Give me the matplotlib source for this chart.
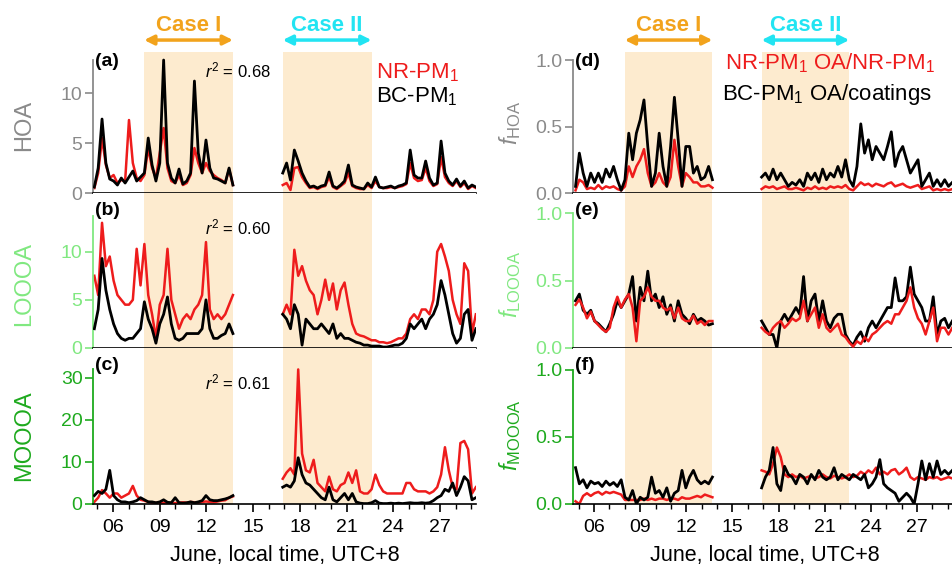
import numpy as np
import matplotlib
matplotlib.use("Agg")
import matplotlib.pyplot as plt
from matplotlib.ticker import MultipleLocator

plt.rcParams['font.family'] = ['Liberation Sans', 'DejaVu Sans']
plt.rcParams['mathtext.fontset'] = 'custom'
plt.rcParams['mathtext.rm'] = 'Liberation Sans'
plt.rcParams['mathtext.it'] = 'Liberation Sans:italic'
plt.rcParams['mathtext.bf'] = 'Liberation Sans:bold'

# sampling grid (days of June, local time): two measurement periods
t1 = np.linspace(4.8, 13.7, 37)
t2 = np.linspace(16.9, 29.3, 51)

# ---- HOA (ug m-3) ----
hoa_nr1 = [0.5, 2.0, 5.5, 2.8, 1.5, 1.8, 1.0, 1.3, 1.2, 7.3,
           3.0, 1.5, 1.2, 1.8, 4.5, 2.5, 1.5, 4.0, 6.5, 2.5,
           1.2, 1.0, 1.8, 0.8, 1.0, 1.8, 4.5, 3.0, 2.0, 3.0,
           2.2, 1.8, 1.5, 1.3, 1.0, 2.4, 0.8]
hoa_bc1 = [0.6, 2.5, 7.4, 3.0, 1.4, 1.2, 0.8, 1.5, 1.0, 1.6,
           2.2, 1.2, 1.6, 2.0, 5.5, 2.8, 1.2, 3.0, 13.3, 3.0,
           1.5, 1.0, 2.4, 0.9, 1.2, 2.0, 11.2, 4.0, 2.0, 5.3,
           2.5, 1.5, 1.4, 1.2, 1.0, 2.5, 0.8]
hoa_nr2 = [0.8, 1.0, 0.3, 2.5, 2.6, 1.6, 1.0, 0.5, 0.6, 0.4,
           0.6, 0.7, 1.6, 0.6, 0.4, 0.7, 1.0, 2.0, 0.7, 0.5,
           0.4, 0.4, 0.8, 0.5, 1.2, 0.6, 0.5, 0.5, 0.6, 0.5,
           0.6, 0.7, 0.9, 3.0, 1.5, 1.2, 1.3, 2.5, 1.2, 0.7,
           0.9, 3.6, 1.6, 1.0, 0.7, 1.2, 0.6, 1.0, 0.4, 0.7, 0.5]
hoa_bc2 = [2.0, 3.0, 1.3, 4.3, 3.2, 2.0, 1.2, 0.6, 0.7, 0.5,
           0.7, 0.8, 2.1, 0.7, 0.5, 0.8, 1.2, 2.8, 0.8, 0.6,
           0.5, 0.4, 1.0, 0.6, 1.6, 0.6, 0.5, 0.6, 0.7, 0.5,
           0.7, 0.8, 1.0, 4.3, 1.8, 1.5, 1.5, 3.2, 1.5, 0.8,
           1.0, 5.2, 2.0, 1.2, 0.8, 1.4, 0.7, 1.2, 0.5, 0.8, 0.6]

# ---- LOOOA ----
looa_nr1 = [7.5, 5.5, 13.0, 8.5, 9.5, 7.0, 5.5, 5.0, 4.5, 4.5,
            5.0, 10.3, 6.5, 10.8, 5.5, 3.5, 1.0, 4.5, 5.5, 10.3,
            5.0, 3.5, 2.0, 3.0, 3.5, 3.0, 4.0, 4.5, 5.5, 11.0,
            4.0, 3.0, 3.5, 3.0, 3.5, 4.5, 5.5]
looa_bc1 = [2.0, 4.0, 9.3, 6.0, 4.0, 2.5, 1.5, 1.0, 0.8, 1.0,
            1.0, 1.5, 2.0, 4.8, 3.0, 2.0, 0.5, 2.5, 3.5, 5.3,
            2.5, 1.0, 0.8, 1.0, 1.5, 1.5, 1.5, 1.5, 2.0, 5.0,
            2.0, 1.0, 1.0, 1.3, 1.5, 2.5, 1.5]
looa_nr2 = [3.5, 4.5, 3.5, 10.2, 7.5, 8.5, 7.0, 6.0, 5.5, 3.5,
            5.0, 7.1, 5.0, 6.7, 4.0, 6.0, 6.8, 4.5, 2.5, 1.5,
            1.3, 1.2, 1.0, 0.8, 0.8, 0.6, 0.6, 0.5, 0.6, 0.8,
            1.0, 1.0, 1.5, 3.0, 3.5, 3.0, 4.0, 4.0, 3.5, 5.0,
            10.0, 10.8, 9.5, 8.0, 5.0, 3.5, 2.5, 8.8, 8.0, 1.5, 3.5]
looa_bc2 = [3.5, 3.0, 2.0, 4.5, 3.5, 0.3, 3.0, 2.5, 2.0, 2.0,
            2.5, 2.0, 1.5, 2.5, 1.0, 1.5, 1.0, 1.0, 0.8, 0.6,
            0.5, 0.3, 0.3, 0.2, 0.2, 0.2, 0.1, 0.1, 0.2, 0.3,
            0.3, 0.5, 1.0, 2.5, 2.0, 2.5, 3.0, 2.0, 3.0, 3.5,
            4.5, 7.0, 5.5, 3.5, 1.5, 0.5, 1.0, 3.5, 4.0, 0.8, 2.0]

# ---- MOOOA ----
mooa_nr1 = [0.5, 1.5, 3.3, 2.5, 1.5, 2.5, 2.5, 1.5, 2.0, 2.5,
            4.3, 2.0, 1.0, 0.8, 0.5, 0.3, 0.3, 0.2, 0.3, 0.2,
            0.3, 0.2, 0.3, 0.4, 0.3, 0.5, 0.4, 0.3, 0.5, 0.6,
            0.5, 0.4, 0.6, 0.8, 0.9, 1.5, 1.8]
mooa_bc1 = [2.0, 3.0, 2.5, 3.5, 8.0, 2.0, 1.0, 0.5, 0.5, 0.3,
            0.5, 0.8, 1.5, 1.0, 0.5, 0.5, 0.3, 0.5, 1.0, 0.4,
            0.3, 1.5, 0.3, 0.2, 0.3, 0.5, 0.3, 0.5, 0.8, 2.0,
            1.0, 0.8, 0.8, 1.0, 1.2, 1.5, 2.0]
mooa_nr2 = [6.0, 7.5, 8.5, 7.0, 32.0, 12.0, 8.0, 7.5, 10.5, 5.0,
            4.0, 3.0, 6.5, 3.5, 3.0, 4.5, 5.0, 7.5, 5.0, 8.0,
            3.0, 2.5, 2.5, 3.5, 7.0, 4.5, 3.0, 2.5, 2.5, 2.5,
            2.5, 2.5, 5.0, 5.0, 3.5, 3.0, 3.0, 3.0, 2.5, 3.0,
            4.0, 7.0, 13.5, 8.0, 4.0, 3.5, 14.5, 15.0, 13.0, 2.5, 4.0]
mooa_bc2 = [4.0, 4.5, 4.0, 5.5, 11.0, 7.0, 5.0, 4.5, 3.5, 2.5,
            1.5, 1.0, 4.0, 1.0, 0.5, 1.5, 2.5, 1.0, 2.5, 0.5,
            0.2, 0.1, 0.1, 0.3, 0.8, 0.2, 0.1, 0.1, 0.2, 0.1,
            0.2, 0.1, 0.2, 0.3, 0.2, 0.2, 0.3, 0.2, 0.3, 0.8,
            1.5, 2.0, 3.5, 3.0, 5.0, 2.0, 4.0, 6.5, 5.5, 1.0, 1.5]

# ---- fractions ----
fhoa_nr1 = [0.02, 0.1, 0.08, 0.03, 0.04, 0.03, 0.06, 0.03, 0.05, 0.04,
            0.05, 0.03, 0.02, 0.05, 0.2, 0.12, 0.2, 0.25, 0.33, 0.15,
            0.05, 0.08, 0.15, 0.08, 0.05, 0.12, 0.4, 0.2, 0.05, 0.15,
            0.12, 0.08, 0.08, 0.05, 0.05, 0.06, 0.04]
fhoa_bc1 = [0.05, 0.3, 0.15, 0.05, 0.15, 0.08, 0.15, 0.08, 0.18, 0.12,
            0.2, 0.1, 0.02, 0.1, 0.45, 0.25, 0.45, 0.55, 0.7, 0.35,
            0.05, 0.15, 0.45, 0.2, 0.05, 0.35, 0.72, 0.4, 0.05, 0.35,
            0.35, 0.15, 0.2, 0.1, 0.12, 0.2, 0.1]
fhoa_nr2 = [0.03, 0.05, 0.04, 0.05, 0.03, 0.04, 0.05, 0.03, 0.03, 0.04,
            0.03, 0.02, 0.04, 0.03, 0.05, 0.03, 0.04, 0.03, 0.05, 0.04,
            0.05, 0.04, 0.06, 0.03, 0.02, 0.05, 0.08, 0.06, 0.07, 0.05,
            0.07, 0.06, 0.05, 0.07, 0.08, 0.05, 0.06, 0.07, 0.05, 0.04,
            0.05, 0.06, 0.03, 0.04, 0.05, 0.02, 0.03, 0.02, 0.03, 0.02, 0.03]
fhoa_bc2 = [0.12, 0.15, 0.1, 0.18, 0.1, 0.15, 0.1, 0.05, 0.08, 0.06,
            0.1, 0.05, 0.15, 0.1, 0.15, 0.08, 0.18, 0.1, 0.15, 0.12,
            0.2, 0.12, 0.25, 0.1, 0.05, 0.2, 0.52, 0.3, 0.4, 0.25,
            0.35, 0.3, 0.25, 0.35, 0.46, 0.2, 0.3, 0.35, 0.25, 0.15,
            0.2, 0.25, 0.05, 0.1, 0.15, 0.05, 0.1, 0.05, 0.1, 0.05, 0.08]

flooa_nr1 = [0.32, 0.36, 0.3, 0.22, 0.27, 0.2, 0.17, 0.14, 0.12, 0.15,
             0.3, 0.38, 0.3, 0.36, 0.4, 0.3, 0.05, 0.35, 0.38, 0.45,
             0.38, 0.35, 0.35, 0.3, 0.28, 0.3, 0.22, 0.3, 0.22, 0.2,
             0.2, 0.24, 0.18, 0.2, 0.17, 0.2, 0.2]
flooa_bc1 = [0.35, 0.4, 0.28, 0.25, 0.28, 0.2, 0.18, 0.15, 0.12, 0.18,
             0.25, 0.35, 0.3, 0.35, 0.4, 0.53, 0.2, 0.45, 0.35, 0.57,
             0.35, 0.4, 0.3, 0.38, 0.25, 0.32, 0.2, 0.35, 0.25, 0.22,
             0.18, 0.25, 0.2, 0.22, 0.2, 0.17, 0.18]
flooa_nr2 = [0.15, 0.12, 0.1, 0.15, 0.18, 0.2, 0.15, 0.18, 0.22, 0.2,
             0.22, 0.35, 0.2, 0.25, 0.3, 0.15, 0.25, 0.15, 0.12, 0.15,
             0.18, 0.1, 0.08, 0.04, 0.01, 0.05, 0.03, 0.08, 0.05, 0.1,
             0.12, 0.15, 0.18, 0.2, 0.18, 0.25, 0.25, 0.3, 0.35, 0.45,
             0.3, 0.22, 0.18, 0.1, 0.2, 0.3, 0.05, 0.15, 0.15, 0.1, 0.15]
flooa_bc2 = [0.2, 0.15, 0.1, 0.1, 0.0, 0.2, 0.25, 0.2, 0.25, 0.3,
             0.25, 0.53, 0.2, 0.35, 0.4, 0.2, 0.35, 0.2, 0.15, 0.22,
             0.25, 0.25, 0.1, 0.05, 0.02, 0.08, 0.12, 0.05, 0.15, 0.2,
             0.15, 0.2, 0.25, 0.3, 0.3, 0.52, 0.35, 0.35, 0.38, 0.6,
             0.4, 0.35, 0.3, 0.2, 0.2, 0.38, 0.1, 0.2, 0.22, 0.15, 0.2]

fmooa_nr1 = [0.02, 0.0, 0.06, 0.08, 0.06, 0.08, 0.09, 0.07, 0.09, 0.08,
             0.09, 0.08, 0.07, 0.03, 0.03, 0.03, 0.03, 0.03, 0.04, 0.03,
             0.04, 0.03, 0.04, 0.04, 0.03, 0.04, 0.04, 0.03, 0.05, 0.04,
             0.04, 0.05, 0.06, 0.05, 0.07, 0.06, 0.05]
fmooa_bc1 = [0.27, 0.15, 0.18, 0.12, 0.17, 0.15, 0.16, 0.13, 0.17, 0.14,
             0.16, 0.13, 0.18, 0.05, 0.03, 0.1, 0.0, 0.05, 0.03, 0.05,
             0.2, 0.08, 0.1, 0.05, 0.12, 0.02, 0.08, 0.1, 0.25, 0.12,
             0.2, 0.25, 0.18, 0.15, 0.17, 0.15, 0.2]
fmooa_nr2 = [0.25, 0.24, 0.22, 0.3, 0.42, 0.35, 0.22, 0.2, 0.22, 0.2,
             0.21, 0.19, 0.2, 0.21, 0.19, 0.2, 0.22, 0.2, 0.19, 0.21,
             0.2, 0.19, 0.2, 0.22, 0.2, 0.21, 0.24, 0.22, 0.25, 0.23,
             0.27, 0.22, 0.24, 0.22, 0.25, 0.26, 0.22, 0.24, 0.27, 0.2,
             0.18, 0.2, 0.19, 0.18, 0.2, 0.19, 0.2, 0.18, 0.19, 0.2, 0.19]
fmooa_bc2 = [0.12, 0.2, 0.25, 0.42, 0.15, 0.1, 0.28, 0.22, 0.2, 0.15,
             0.22, 0.2, 0.15, 0.22, 0.18, 0.25, 0.2, 0.18, 0.2, 0.27,
             0.18, 0.22, 0.2, 0.18, 0.22, 0.2, 0.18, 0.22, 0.12, 0.15,
             0.2, 0.33, 0.15, 0.12, 0.1, 0.08, 0.02, 0.05, 0.08, 0.05,
             0.0, 0.15, 0.32, 0.18, 0.3, 0.2, 0.32, 0.22, 0.25, 0.22, 0.25]

case1 = (8.0, 13.7)
case2 = (16.9, 22.6)
r2_text = ['0.68', '0.60', '0.61']

RED = '#ee1c1c'
SHADE = '#fdebcf'
ORANGE = '#f2a31c'
CYAN = '#22e4f2'
GRAY = '#8a8a8a'
LGREEN = '#80e880'
GREEN = '#1eaa1e'
row_colors = [GRAY, LGREEN, GREEN]

fig = plt.figure(figsize=(9.52, 5.75), dpi=100)
rows = [(0.6643, 0.2452), (0.3948, 0.2696), (0.1235, 0.2713)]
colx = [0.0977, 0.6019]
W = 0.4023

left_data = [(hoa_nr1, hoa_nr2, hoa_bc1, hoa_bc2),
             (looa_nr1, looa_nr2, looa_bc1, looa_bc2),
             (mooa_nr1, mooa_nr2, mooa_bc1, mooa_bc2)]
right_data = [(fhoa_nr1, fhoa_nr2, fhoa_bc1, fhoa_bc2),
              (flooa_nr1, flooa_nr2, flooa_bc1, flooa_bc2),
              (fmooa_nr1, fmooa_nr2, fmooa_bc1, fmooa_bc2)]

left_ylim = [14.1, 16.1, 37.1]
left_top = [13.3, 13.7, 32.2]
left_ticks = [[0, 5, 10], [0, 5, 10], [0, 10, 20, 30]]
right_ylim = [1.06, 1.15, 1.16]
left_labels = ['HOA', 'LOOOA', 'MOOOA']
right_labels = [r'$f_{\mathrm{HOA}}$', r'$f_{\mathrm{LOOOA}}$', r'$f_{\mathrm{MOOOA}}$']
label_y = [0.48, 0.41, 0.44]
panel_y = [0.93, 0.885, 0.89]
letters = [['(a)', '(b)', '(c)'], ['(d)', '(e)', '(f)']]

for c in range(2):
    for r in range(3):
        bottom, h = rows[r]
        ax = fig.add_axes([colx[c], bottom, W, h])
        col = row_colors[r]
        ax.axvspan(*case1, color=SHADE, lw=0, zorder=0)
        ax.axvspan(*case2, color=SHADE, lw=0, zorder=0)
        d = left_data[r] if c == 0 else right_data[r]
        red_z = 4 if (c == 1 and r == 1) else 2
        ax.plot(t1, d[0], color=RED, lw=1.8, zorder=red_z)
        ax.plot(t2, d[1], color=RED, lw=1.8, zorder=red_z)
        ax.plot(t1, d[2], color='black', lw=2.0, zorder=3)
        ax.plot(t2, d[3], color='black', lw=2.0, zorder=3)

        if c == 0:
            ax.set_xlim(4.715, 29.31)
            ax.set_ylim(0, left_ylim[r])
            ax.set_yticks(left_ticks[r])
            ax.spines['left'].set_bounds(0, left_top[r])
            ax.text(-0.18, label_y[r], left_labels[r], transform=ax.transAxes,
                    rotation=90, ha='center', va='center', color=col, fontsize=17)
            ax.text(11.9, [0.87, 0.78, 0.776][r], r'$r^2$ = ' + r2_text[r],
                    transform=ax.get_xaxis_transform(), ha='left', va='center',
                    fontsize=12)
        else:
            ax.set_xlim(4.635, 29.54)
            ax.set_ylim(0, right_ylim[r])
            ax.set_yticks([0, 0.5, 1.0])
            ax.set_yticklabels(['0.0', '0.5', '1.0'])
            ax.spines['left'].set_bounds(0, 1.0)
            ax.text(-0.165, [0.50, 0.41, 0.44][r], right_labels[r],
                    transform=ax.transAxes, rotation=90, ha='center', va='center',
                    color=col, fontsize=17)

        ax.text(0.005, panel_y[r], letters[c][r], transform=ax.transAxes,
                ha='left', va='center', fontsize=14, fontweight='bold')

        for s in ['top', 'right']:
            ax.spines[s].set_visible(False)
        ax.spines['left'].set_color(col)
        ax.spines['left'].set_linewidth(1.3)
        ax.spines['bottom'].set_linewidth(1.2)
        ax.tick_params(axis='y', colors=col, direction='out', length=6, width=1.2,
                       pad=1.5, labelsize=14)
        ax.set_xticks([6, 9, 12, 15, 18, 21, 24, 27])
        ax.set_xticklabels(['06', '09', '12', '15', '18', '21', '24', '27'])
        ax.xaxis.set_minor_locator(MultipleLocator(1))
        ax.tick_params(axis='x', which='major', direction='out', length=5.5,
                       width=1.2, labelsize=14, pad=5)
        ax.tick_params(axis='x', which='minor', direction='out', length=3.5, width=1.0)
        if r < 2:
            ax.tick_params(axis='x', labelbottom=False)
        else:
            ax.set_xlabel('June, local time, UTC+8', fontsize=15.5, labelpad=7)

        if r == 0:
            tr = ax.get_xaxis_transform()
            for (x0, x1), name, ccol in [(case1, 'Case I', ORANGE), (case2, 'Case II', CYAN)]:
                ax.annotate('', xy=(x1, 1.085), xytext=(x0, 1.085), xycoords=tr,
                            textcoords=tr,
                            arrowprops=dict(arrowstyle='<|-|>', color=ccol, lw=2.5,
                                            mutation_scale=14, shrinkA=0, shrinkB=0))
                ax.text((x0 + x1) / 2, 1.19, name, transform=tr, ha='center',
                        va='center', color=ccol, fontsize=16, fontweight='bold')
            if c == 0:
                ax.text(0.74, 0.855, 'NR-PM$_1$', transform=ax.transAxes,
                        color=RED, fontsize=16, ha='left', va='center')
                ax.text(0.74, 0.68, 'BC-PM$_1$', transform=ax.transAxes,
                        color='black', fontsize=16, ha='left', va='center')
            else:
                ax.text(0.398, 0.92, 'NR-PM$_1$ OA/NR-PM$_1$', transform=ax.transAxes,
                        color=RED, fontsize=16, ha='left', va='center')
                ax.text(0.39, 0.70, 'BC-PM$_1$ OA/coatings', transform=ax.transAxes,
                        color='black', fontsize=16, ha='left', va='center')

fig.savefig('out.png', dpi=100)
